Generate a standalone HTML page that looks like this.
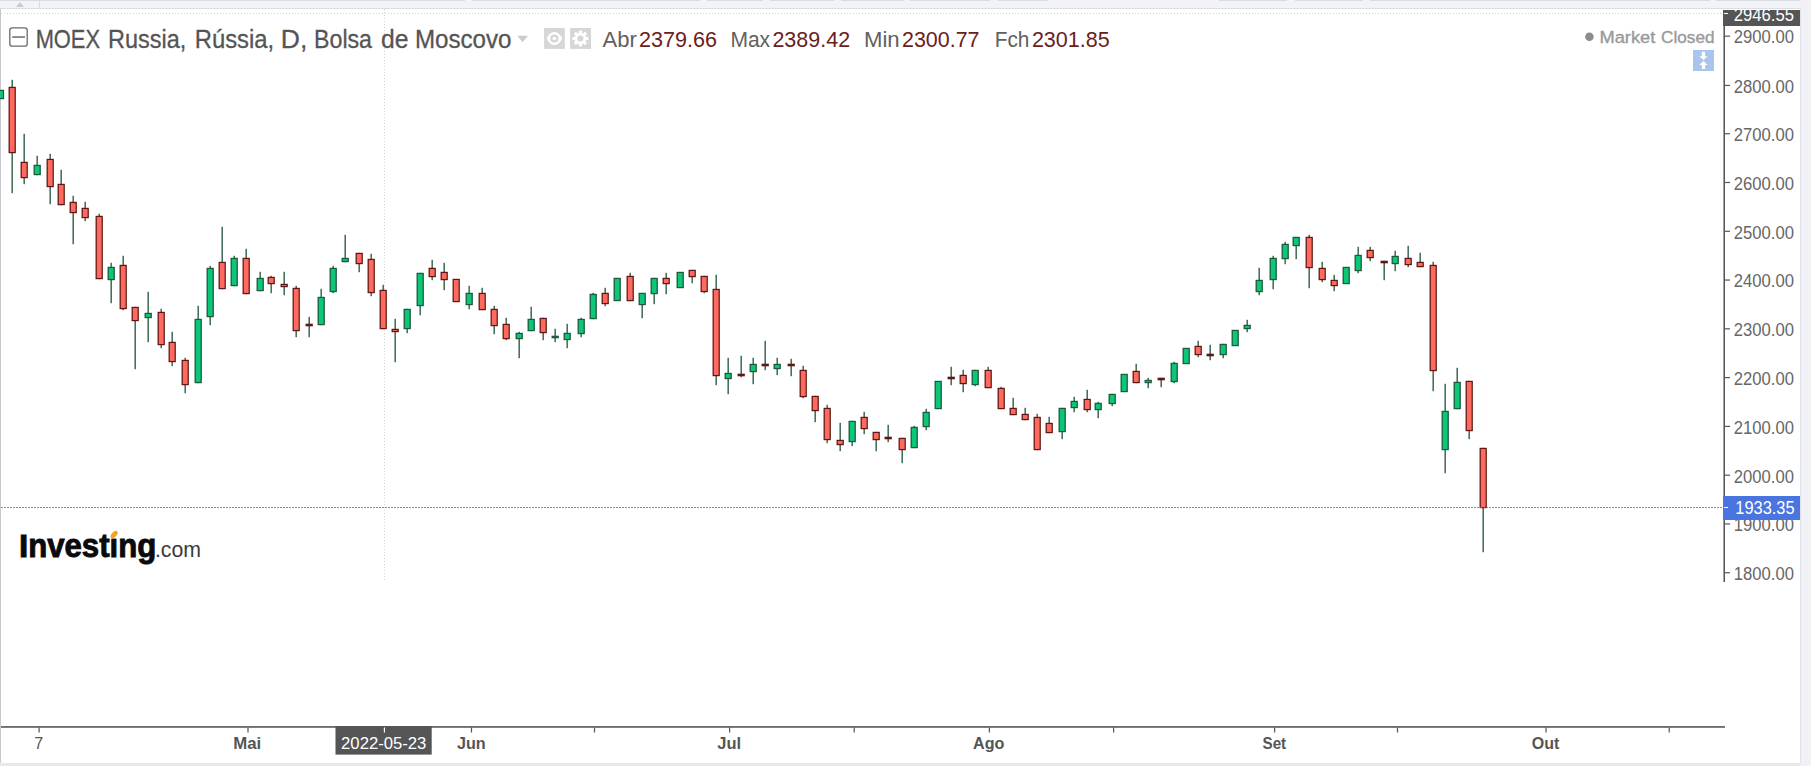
<!DOCTYPE html>
<html lang="pt"><head><meta charset="utf-8"><title>MOEX Russia</title>
<style>html,body{margin:0;padding:0;background:#fff;width:1811px;height:766px;overflow:hidden}</style>
</head><body>
<svg width="1811" height="766" viewBox="0 0 1811 766" style="display:block;position:absolute;left:0;top:0">
<rect x="0" y="0" width="1811" height="766" fill="#ffffff"/>
<g shape-rendering="crispEdges">
<rect x="0" y="0" width="1811" height="9" fill="#f2f3f7"/>
<rect x="0" y="0" width="464.5" height="1" fill="#d9dbe2"/>
<rect x="472" y="0" width="228" height="1" fill="#d9dbe2"/>
<rect x="706.5" y="0" width="56.5" height="1" fill="#d9dbe2"/>
<rect x="769.5" y="0" width="64.5" height="1" fill="#d9dbe2"/>
<rect x="840.5" y="0" width="63.0" height="1" fill="#d9dbe2"/>
<rect x="910" y="0" width="80" height="1" fill="#d9dbe2"/>
<rect x="997.5" y="0" width="50.5" height="1" fill="#d9dbe2"/>
<rect x="1218.5" y="0" width="68.0" height="1" fill="#d9dbe2"/>
<rect x="1294.5" y="0" width="68.5" height="1" fill="#d9dbe2"/>
<rect x="1370" y="0" width="340" height="1" fill="#d9dbe2"/>
<rect x="1716" y="0" width="87" height="1" fill="#d9dbe2"/>
<rect x="0" y="8" width="1800" height="1" fill="#dcdde2"/>
<rect x="39" y="1" width="1" height="7" fill="#d9dbe1"/>
<rect x="1800" y="0" width="11" height="766" fill="#f0f1f6"/>
<rect x="1800" y="9" width="1" height="754" fill="#dfe1e8"/>
<rect x="1808" y="0" width="3" height="766" fill="#f2f2f3"/>
<rect x="0" y="763" width="1800" height="3" fill="#e6e8ee"/>
<rect x="0" y="9" width="1" height="754" fill="#c9c9cd"/>
</g>
<path d="M16 7 L20 2.3 L24 7 Z" fill="#c9cbd1"/>
<g shape-rendering="crispEdges">
<line x1="1" y1="13.5" x2="1724" y2="13.5" stroke="#cdcdcd" stroke-width="1" stroke-dasharray="1 2"/>
<line x1="384.5" y1="9" x2="384.5" y2="582" stroke="#d2d2d2" stroke-width="1" stroke-dasharray="1 2"/>
</g>
<filter id="bl" x="-1%" y="-1%" width="102%" height="102%"><feGaussianBlur stdDeviation="0.42"/></filter>
<g filter="url(#bl)">
<rect x="-2" y="89.8" width="6.1" height="9.4" fill="#1b5a3a"/><rect x="-2" y="91" width="4.9" height="7" fill="#0cc677"/>
<rect x="11.45" y="79.8" width="1.5" height="113.4" fill="#3d6a55"/>
<rect x="8.55" y="86.8" width="7.3" height="66.4" fill="#5e1512"/>
<rect x="9.80" y="88.05" width="4.80" height="63.90" fill="#ff6a60"/>
<rect x="23.45" y="133.8" width="1.5" height="50.4" fill="#3d6a55"/>
<rect x="20.55" y="161.8" width="7.3" height="16.4" fill="#5e1512"/>
<rect x="21.80" y="163.05" width="4.80" height="13.90" fill="#ff6a60"/>
<rect x="36.45" y="155.8" width="1.5" height="19.4" fill="#3d6a55"/>
<rect x="33.55" y="164.8" width="7.3" height="10.4" fill="#1b5a3a"/>
<rect x="34.80" y="166.05" width="4.80" height="7.90" fill="#0cc677"/>
<rect x="49.45" y="153.8" width="1.5" height="50.4" fill="#3d6a55"/>
<rect x="46.55" y="158.8" width="7.3" height="28.4" fill="#5e1512"/>
<rect x="47.80" y="160.05" width="4.80" height="25.90" fill="#ff6a60"/>
<rect x="60.45" y="169.8" width="1.5" height="35.4" fill="#3d6a55"/>
<rect x="57.55" y="183.8" width="7.3" height="21.4" fill="#5e1512"/>
<rect x="58.80" y="185.05" width="4.80" height="18.90" fill="#ff6a60"/>
<rect x="72.45" y="195.8" width="1.5" height="48.4" fill="#3d6a55"/>
<rect x="69.55" y="201.8" width="7.3" height="11.4" fill="#5e1512"/>
<rect x="70.80" y="203.05" width="4.80" height="8.90" fill="#ff6a60"/>
<rect x="84.45" y="201.8" width="1.5" height="19.4" fill="#3d6a55"/>
<rect x="81.55" y="207.8" width="7.3" height="10.4" fill="#5e1512"/>
<rect x="82.80" y="209.05" width="4.80" height="7.90" fill="#ff6a60"/>
<rect x="98.45" y="213.8" width="1.5" height="65.4" fill="#3d6a55"/>
<rect x="95.55" y="215.8" width="7.3" height="63.4" fill="#5e1512"/>
<rect x="96.80" y="217.05" width="4.80" height="60.90" fill="#ff6a60"/>
<rect x="110.45" y="262.8" width="1.5" height="40.4" fill="#3d6a55"/>
<rect x="107.55" y="266.8" width="7.3" height="13.4" fill="#1b5a3a"/>
<rect x="108.80" y="268.05" width="4.80" height="10.90" fill="#0cc677"/>
<rect x="122.45" y="255.8" width="1.5" height="54.4" fill="#3d6a55"/>
<rect x="119.55" y="264.8" width="7.3" height="44.4" fill="#5e1512"/>
<rect x="120.80" y="266.05" width="4.80" height="41.90" fill="#ff6a60"/>
<rect x="134.45" y="306.8" width="1.5" height="62.4" fill="#3d6a55"/>
<rect x="131.55" y="306.8" width="7.3" height="14.4" fill="#5e1512"/>
<rect x="132.80" y="308.05" width="4.80" height="11.90" fill="#ff6a60"/>
<rect x="147.45" y="291.8" width="1.5" height="50.4" fill="#3d6a55"/>
<rect x="144.55" y="312.8" width="7.3" height="5.4" fill="#1b5a3a"/>
<rect x="145.80" y="314.05" width="4.80" height="2.90" fill="#0cc677"/>
<rect x="160.45" y="308.8" width="1.5" height="39.4" fill="#3d6a55"/>
<rect x="157.55" y="311.8" width="7.3" height="33.4" fill="#5e1512"/>
<rect x="158.80" y="313.05" width="4.80" height="30.90" fill="#ff6a60"/>
<rect x="171.45" y="331.8" width="1.5" height="34.4" fill="#3d6a55"/>
<rect x="168.55" y="341.8" width="7.3" height="20.4" fill="#5e1512"/>
<rect x="169.80" y="343.05" width="4.80" height="17.90" fill="#ff6a60"/>
<rect x="184.45" y="357.8" width="1.5" height="35.4" fill="#3d6a55"/>
<rect x="181.55" y="359.8" width="7.3" height="25.4" fill="#5e1512"/>
<rect x="182.80" y="361.05" width="4.80" height="22.90" fill="#ff6a60"/>
<rect x="197.45" y="305.8" width="1.5" height="77.4" fill="#3d6a55"/>
<rect x="194.55" y="318.8" width="7.3" height="64.4" fill="#1b5a3a"/>
<rect x="195.80" y="320.05" width="4.80" height="61.90" fill="#0cc677"/>
<rect x="209.45" y="265.8" width="1.5" height="59.4" fill="#3d6a55"/>
<rect x="206.55" y="267.8" width="7.3" height="49.4" fill="#1b5a3a"/>
<rect x="207.80" y="269.05" width="4.80" height="46.90" fill="#0cc677"/>
<rect x="221.45" y="226.8" width="1.5" height="62.4" fill="#3d6a55"/>
<rect x="218.55" y="261.8" width="7.3" height="27.4" fill="#5e1512"/>
<rect x="219.80" y="263.05" width="4.80" height="24.90" fill="#ff6a60"/>
<rect x="233.45" y="255.8" width="1.5" height="30.4" fill="#3d6a55"/>
<rect x="230.55" y="257.8" width="7.3" height="28.4" fill="#1b5a3a"/>
<rect x="231.80" y="259.05" width="4.80" height="25.90" fill="#0cc677"/>
<rect x="245.45" y="248.8" width="1.5" height="45.4" fill="#3d6a55"/>
<rect x="242.55" y="257.8" width="7.3" height="36.4" fill="#5e1512"/>
<rect x="243.80" y="259.05" width="4.80" height="33.90" fill="#ff6a60"/>
<rect x="259.45" y="271.8" width="1.5" height="19.4" fill="#3d6a55"/>
<rect x="256.55" y="277.8" width="7.3" height="13.4" fill="#1b5a3a"/>
<rect x="257.80" y="279.05" width="4.80" height="10.90" fill="#0cc677"/>
<rect x="270.45" y="275.8" width="1.5" height="17.4" fill="#3d6a55"/>
<rect x="267.55" y="276.8" width="7.3" height="7.4" fill="#5e1512"/>
<rect x="268.80" y="278.05" width="4.80" height="4.90" fill="#ff6a60"/>
<rect x="283.45" y="271.8" width="1.5" height="23.4" fill="#3d6a55"/>
<rect x="280.55" y="283.8" width="7.3" height="3.4" fill="#5e1512"/>
<rect x="281.80" y="285.05" width="4.80" height="0.90" fill="#ff6a60"/>
<rect x="295.45" y="285.8" width="1.5" height="51.4" fill="#3d6a55"/>
<rect x="292.55" y="287.8" width="7.3" height="43.4" fill="#5e1512"/>
<rect x="293.80" y="289.05" width="4.80" height="40.90" fill="#ff6a60"/>
<rect x="308.45" y="316.8" width="1.5" height="20.4" fill="#3d6a55"/>
<rect x="305.55" y="323.7" width="7.3" height="2.6" fill="#5e1512"/>
<rect x="320.45" y="288.8" width="1.5" height="36.4" fill="#3d6a55"/>
<rect x="317.55" y="296.8" width="7.3" height="28.4" fill="#1b5a3a"/>
<rect x="318.80" y="298.05" width="4.80" height="25.90" fill="#0cc677"/>
<rect x="332.45" y="265.8" width="1.5" height="27.4" fill="#3d6a55"/>
<rect x="329.55" y="267.8" width="7.3" height="24.4" fill="#1b5a3a"/>
<rect x="330.80" y="269.05" width="4.80" height="21.90" fill="#0cc677"/>
<rect x="344.45" y="234.8" width="1.5" height="27.4" fill="#3d6a55"/>
<rect x="341.55" y="257.8" width="7.3" height="4.4" fill="#1b5a3a"/>
<rect x="342.80" y="259.05" width="4.80" height="1.90" fill="#0cc677"/>
<rect x="358.45" y="252.8" width="1.5" height="19.4" fill="#3d6a55"/>
<rect x="355.55" y="252.8" width="7.3" height="11.4" fill="#5e1512"/>
<rect x="356.80" y="254.05" width="4.80" height="8.90" fill="#ff6a60"/>
<rect x="370.45" y="253.8" width="1.5" height="42.4" fill="#3d6a55"/>
<rect x="367.55" y="258.8" width="7.3" height="34.4" fill="#5e1512"/>
<rect x="368.80" y="260.05" width="4.80" height="31.90" fill="#ff6a60"/>
<rect x="382.45" y="284.8" width="1.5" height="44.4" fill="#3d6a55"/>
<rect x="379.55" y="289.8" width="7.3" height="39.4" fill="#5e1512"/>
<rect x="380.80" y="291.05" width="4.80" height="36.90" fill="#ff6a60"/>
<rect x="394.45" y="318.8" width="1.5" height="43.4" fill="#3d6a55"/>
<rect x="391.55" y="328.8" width="7.3" height="3.4" fill="#5e1512"/>
<rect x="392.80" y="330.05" width="4.80" height="0.90" fill="#ff6a60"/>
<rect x="406.45" y="308.8" width="1.5" height="24.4" fill="#3d6a55"/>
<rect x="403.55" y="308.8" width="7.3" height="20.4" fill="#1b5a3a"/>
<rect x="404.80" y="310.05" width="4.80" height="17.90" fill="#0cc677"/>
<rect x="419.45" y="272.8" width="1.5" height="42.4" fill="#3d6a55"/>
<rect x="416.55" y="272.8" width="7.3" height="33.4" fill="#1b5a3a"/>
<rect x="417.80" y="274.05" width="4.80" height="30.90" fill="#0cc677"/>
<rect x="431.45" y="259.8" width="1.5" height="20.4" fill="#3d6a55"/>
<rect x="428.55" y="267.8" width="7.3" height="9.4" fill="#5e1512"/>
<rect x="429.80" y="269.05" width="4.80" height="6.90" fill="#ff6a60"/>
<rect x="443.45" y="262.8" width="1.5" height="27.4" fill="#3d6a55"/>
<rect x="440.55" y="271.8" width="7.3" height="8.4" fill="#5e1512"/>
<rect x="441.80" y="273.05" width="4.80" height="5.90" fill="#ff6a60"/>
<rect x="452.55" y="278.8" width="7.3" height="23.4" fill="#5e1512"/>
<rect x="453.80" y="280.05" width="4.80" height="20.90" fill="#ff6a60"/>
<rect x="468.45" y="285.8" width="1.5" height="23.4" fill="#3d6a55"/>
<rect x="465.55" y="292.8" width="7.3" height="12.4" fill="#1b5a3a"/>
<rect x="466.80" y="294.05" width="4.80" height="9.90" fill="#0cc677"/>
<rect x="481.45" y="287.8" width="1.5" height="22.4" fill="#3d6a55"/>
<rect x="478.55" y="292.8" width="7.3" height="17.4" fill="#5e1512"/>
<rect x="479.80" y="294.05" width="4.80" height="14.90" fill="#ff6a60"/>
<rect x="493.45" y="305.8" width="1.5" height="28.4" fill="#3d6a55"/>
<rect x="490.55" y="308.8" width="7.3" height="17.4" fill="#5e1512"/>
<rect x="491.80" y="310.05" width="4.80" height="14.90" fill="#ff6a60"/>
<rect x="505.45" y="317.8" width="1.5" height="22.4" fill="#3d6a55"/>
<rect x="502.55" y="323.8" width="7.3" height="15.4" fill="#5e1512"/>
<rect x="503.80" y="325.05" width="4.80" height="12.90" fill="#ff6a60"/>
<rect x="518.45" y="331.8" width="1.5" height="26.4" fill="#3d6a55"/>
<rect x="515.55" y="332.8" width="7.3" height="6.4" fill="#1b5a3a"/>
<rect x="516.80" y="334.05" width="4.80" height="3.90" fill="#0cc677"/>
<rect x="530.45" y="306.8" width="1.5" height="24.4" fill="#3d6a55"/>
<rect x="527.55" y="318.8" width="7.3" height="12.4" fill="#1b5a3a"/>
<rect x="528.80" y="320.05" width="4.80" height="9.90" fill="#0cc677"/>
<rect x="542.45" y="317.8" width="1.5" height="22.4" fill="#3d6a55"/>
<rect x="539.55" y="317.8" width="7.3" height="15.4" fill="#5e1512"/>
<rect x="540.80" y="319.05" width="4.80" height="12.90" fill="#ff6a60"/>
<rect x="554.45" y="328.8" width="1.5" height="13.4" fill="#3d6a55"/>
<rect x="551.55" y="335.7" width="7.3" height="2.6" fill="#1b5a3a"/>
<rect x="566.45" y="323.8" width="1.5" height="24.4" fill="#3d6a55"/>
<rect x="563.55" y="332.8" width="7.3" height="7.4" fill="#1b5a3a"/>
<rect x="564.80" y="334.05" width="4.80" height="4.90" fill="#0cc677"/>
<rect x="580.45" y="317.8" width="1.5" height="19.4" fill="#3d6a55"/>
<rect x="577.55" y="318.8" width="7.3" height="15.4" fill="#1b5a3a"/>
<rect x="578.80" y="320.05" width="4.80" height="12.90" fill="#0cc677"/>
<rect x="592.45" y="292.8" width="1.5" height="26.4" fill="#3d6a55"/>
<rect x="589.55" y="293.8" width="7.3" height="25.4" fill="#1b5a3a"/>
<rect x="590.80" y="295.05" width="4.80" height="22.90" fill="#0cc677"/>
<rect x="604.45" y="287.8" width="1.5" height="18.4" fill="#3d6a55"/>
<rect x="601.55" y="292.8" width="7.3" height="11.4" fill="#5e1512"/>
<rect x="602.80" y="294.05" width="4.80" height="8.90" fill="#ff6a60"/>
<rect x="613.55" y="277.8" width="7.3" height="23.4" fill="#1b5a3a"/>
<rect x="614.80" y="279.05" width="4.80" height="20.90" fill="#0cc677"/>
<rect x="629.45" y="272.8" width="1.5" height="28.4" fill="#3d6a55"/>
<rect x="626.55" y="275.8" width="7.3" height="25.4" fill="#5e1512"/>
<rect x="627.80" y="277.05" width="4.80" height="22.90" fill="#ff6a60"/>
<rect x="641.45" y="292.8" width="1.5" height="25.4" fill="#3d6a55"/>
<rect x="638.55" y="292.8" width="7.3" height="12.4" fill="#1b5a3a"/>
<rect x="639.80" y="294.05" width="4.80" height="9.90" fill="#0cc677"/>
<rect x="653.45" y="277.8" width="1.5" height="26.4" fill="#3d6a55"/>
<rect x="650.55" y="277.8" width="7.3" height="16.4" fill="#1b5a3a"/>
<rect x="651.80" y="279.05" width="4.80" height="13.90" fill="#0cc677"/>
<rect x="665.45" y="272.8" width="1.5" height="21.4" fill="#3d6a55"/>
<rect x="662.55" y="277.8" width="7.3" height="6.4" fill="#5e1512"/>
<rect x="663.80" y="279.05" width="4.80" height="3.90" fill="#ff6a60"/>
<rect x="676.55" y="271.8" width="7.3" height="16.4" fill="#1b5a3a"/>
<rect x="677.80" y="273.05" width="4.80" height="13.90" fill="#0cc677"/>
<rect x="691.45" y="269.8" width="1.5" height="13.4" fill="#3d6a55"/>
<rect x="688.55" y="269.8" width="7.3" height="7.4" fill="#5e1512"/>
<rect x="689.80" y="271.05" width="4.80" height="4.90" fill="#ff6a60"/>
<rect x="703.45" y="275.8" width="1.5" height="17.4" fill="#3d6a55"/>
<rect x="700.55" y="275.8" width="7.3" height="16.4" fill="#5e1512"/>
<rect x="701.80" y="277.05" width="4.80" height="13.90" fill="#ff6a60"/>
<rect x="715.45" y="274.8" width="1.5" height="110.4" fill="#3d6a55"/>
<rect x="712.55" y="288.8" width="7.3" height="87.4" fill="#5e1512"/>
<rect x="713.80" y="290.05" width="4.80" height="84.90" fill="#ff6a60"/>
<rect x="727.45" y="357.8" width="1.5" height="36.4" fill="#3d6a55"/>
<rect x="724.55" y="372.8" width="7.3" height="6.4" fill="#1b5a3a"/>
<rect x="725.80" y="374.05" width="4.80" height="3.90" fill="#0cc677"/>
<rect x="740.45" y="355.8" width="1.5" height="21.4" fill="#3d6a55"/>
<rect x="737.55" y="373.7" width="7.3" height="2.6" fill="#5e1512"/>
<rect x="752.45" y="357.8" width="1.5" height="26.4" fill="#3d6a55"/>
<rect x="749.55" y="363.8" width="7.3" height="8.4" fill="#1b5a3a"/>
<rect x="750.80" y="365.05" width="4.80" height="5.90" fill="#0cc677"/>
<rect x="764.45" y="340.8" width="1.5" height="29.4" fill="#3d6a55"/>
<rect x="761.55" y="363.7" width="7.3" height="2.6" fill="#5e1512"/>
<rect x="776.45" y="357.8" width="1.5" height="17.4" fill="#3d6a55"/>
<rect x="773.55" y="363.8" width="7.3" height="5.4" fill="#1b5a3a"/>
<rect x="774.80" y="365.05" width="4.80" height="2.90" fill="#0cc677"/>
<rect x="790.45" y="358.8" width="1.5" height="17.4" fill="#3d6a55"/>
<rect x="787.55" y="363.7" width="7.3" height="2.6" fill="#5e1512"/>
<rect x="802.45" y="365.8" width="1.5" height="32.4" fill="#3d6a55"/>
<rect x="799.55" y="369.8" width="7.3" height="27.4" fill="#5e1512"/>
<rect x="800.80" y="371.05" width="4.80" height="24.90" fill="#ff6a60"/>
<rect x="814.45" y="395.8" width="1.5" height="26.4" fill="#3d6a55"/>
<rect x="811.55" y="395.8" width="7.3" height="15.4" fill="#5e1512"/>
<rect x="812.80" y="397.05" width="4.80" height="12.90" fill="#ff6a60"/>
<rect x="826.45" y="404.8" width="1.5" height="38.4" fill="#3d6a55"/>
<rect x="823.55" y="407.8" width="7.3" height="32.4" fill="#5e1512"/>
<rect x="824.80" y="409.05" width="4.80" height="29.90" fill="#ff6a60"/>
<rect x="839.45" y="422.8" width="1.5" height="28.4" fill="#3d6a55"/>
<rect x="836.55" y="439.8" width="7.3" height="5.4" fill="#5e1512"/>
<rect x="837.80" y="441.05" width="4.80" height="2.90" fill="#ff6a60"/>
<rect x="851.45" y="420.8" width="1.5" height="25.4" fill="#3d6a55"/>
<rect x="848.55" y="420.8" width="7.3" height="21.4" fill="#1b5a3a"/>
<rect x="849.80" y="422.05" width="4.80" height="18.90" fill="#0cc677"/>
<rect x="863.45" y="411.8" width="1.5" height="22.4" fill="#3d6a55"/>
<rect x="860.55" y="416.8" width="7.3" height="12.4" fill="#5e1512"/>
<rect x="861.80" y="418.05" width="4.80" height="9.90" fill="#ff6a60"/>
<rect x="875.45" y="431.8" width="1.5" height="19.4" fill="#3d6a55"/>
<rect x="872.55" y="431.8" width="7.3" height="8.4" fill="#5e1512"/>
<rect x="873.80" y="433.05" width="4.80" height="5.90" fill="#ff6a60"/>
<rect x="887.45" y="424.8" width="1.5" height="17.4" fill="#3d6a55"/>
<rect x="884.55" y="436.7" width="7.3" height="2.6" fill="#5e1512"/>
<rect x="901.45" y="437.8" width="1.5" height="25.4" fill="#3d6a55"/>
<rect x="898.55" y="437.8" width="7.3" height="12.4" fill="#5e1512"/>
<rect x="899.80" y="439.05" width="4.80" height="9.90" fill="#ff6a60"/>
<rect x="913.45" y="425.8" width="1.5" height="22.4" fill="#3d6a55"/>
<rect x="910.55" y="426.8" width="7.3" height="21.4" fill="#1b5a3a"/>
<rect x="911.80" y="428.05" width="4.80" height="18.90" fill="#0cc677"/>
<rect x="925.45" y="408.8" width="1.5" height="21.4" fill="#3d6a55"/>
<rect x="922.55" y="411.8" width="7.3" height="15.4" fill="#1b5a3a"/>
<rect x="923.80" y="413.05" width="4.80" height="12.90" fill="#0cc677"/>
<rect x="934.55" y="380.8" width="7.3" height="28.4" fill="#1b5a3a"/>
<rect x="935.80" y="382.05" width="4.80" height="25.90" fill="#0cc677"/>
<rect x="950.45" y="366.8" width="1.5" height="18.4" fill="#3d6a55"/>
<rect x="947.55" y="376.7" width="7.3" height="2.6" fill="#5e1512"/>
<rect x="962.45" y="369.8" width="1.5" height="22.4" fill="#3d6a55"/>
<rect x="959.55" y="374.8" width="7.3" height="9.4" fill="#5e1512"/>
<rect x="960.80" y="376.05" width="4.80" height="6.90" fill="#ff6a60"/>
<rect x="974.45" y="369.8" width="1.5" height="16.4" fill="#3d6a55"/>
<rect x="971.55" y="369.8" width="7.3" height="15.4" fill="#1b5a3a"/>
<rect x="972.80" y="371.05" width="4.80" height="12.90" fill="#0cc677"/>
<rect x="987.45" y="366.8" width="1.5" height="21.4" fill="#3d6a55"/>
<rect x="984.55" y="369.8" width="7.3" height="18.4" fill="#5e1512"/>
<rect x="985.80" y="371.05" width="4.80" height="15.90" fill="#ff6a60"/>
<rect x="1000.45" y="386.8" width="1.5" height="22.4" fill="#3d6a55"/>
<rect x="997.55" y="387.8" width="7.3" height="21.4" fill="#5e1512"/>
<rect x="998.80" y="389.05" width="4.80" height="18.90" fill="#ff6a60"/>
<rect x="1012.45" y="397.8" width="1.5" height="17.4" fill="#3d6a55"/>
<rect x="1009.55" y="407.8" width="7.3" height="7.4" fill="#5e1512"/>
<rect x="1010.80" y="409.05" width="4.80" height="4.90" fill="#ff6a60"/>
<rect x="1024.45" y="407.8" width="1.5" height="12.4" fill="#3d6a55"/>
<rect x="1021.55" y="413.8" width="7.3" height="6.4" fill="#5e1512"/>
<rect x="1022.80" y="415.05" width="4.80" height="3.90" fill="#ff6a60"/>
<rect x="1036.45" y="413.8" width="1.5" height="36.4" fill="#3d6a55"/>
<rect x="1033.55" y="416.8" width="7.3" height="33.4" fill="#5e1512"/>
<rect x="1034.80" y="418.05" width="4.80" height="30.90" fill="#ff6a60"/>
<rect x="1048.45" y="416.8" width="1.5" height="16.4" fill="#3d6a55"/>
<rect x="1045.55" y="422.8" width="7.3" height="10.4" fill="#5e1512"/>
<rect x="1046.80" y="424.05" width="4.80" height="7.90" fill="#ff6a60"/>
<rect x="1061.45" y="407.8" width="1.5" height="31.4" fill="#3d6a55"/>
<rect x="1058.55" y="407.8" width="7.3" height="24.4" fill="#1b5a3a"/>
<rect x="1059.80" y="409.05" width="4.80" height="21.90" fill="#0cc677"/>
<rect x="1073.45" y="396.8" width="1.5" height="15.4" fill="#3d6a55"/>
<rect x="1070.55" y="400.8" width="7.3" height="7.4" fill="#1b5a3a"/>
<rect x="1071.80" y="402.05" width="4.80" height="4.90" fill="#0cc677"/>
<rect x="1086.45" y="389.8" width="1.5" height="22.4" fill="#3d6a55"/>
<rect x="1083.55" y="398.8" width="7.3" height="11.4" fill="#5e1512"/>
<rect x="1084.80" y="400.05" width="4.80" height="8.90" fill="#ff6a60"/>
<rect x="1097.45" y="401.8" width="1.5" height="16.4" fill="#3d6a55"/>
<rect x="1094.55" y="402.8" width="7.3" height="7.4" fill="#1b5a3a"/>
<rect x="1095.80" y="404.05" width="4.80" height="4.90" fill="#0cc677"/>
<rect x="1111.45" y="393.8" width="1.5" height="12.4" fill="#3d6a55"/>
<rect x="1108.55" y="393.8" width="7.3" height="10.4" fill="#1b5a3a"/>
<rect x="1109.80" y="395.05" width="4.80" height="7.90" fill="#0cc677"/>
<rect x="1120.55" y="373.8" width="7.3" height="18.4" fill="#1b5a3a"/>
<rect x="1121.80" y="375.05" width="4.80" height="15.90" fill="#0cc677"/>
<rect x="1135.45" y="363.8" width="1.5" height="19.4" fill="#3d6a55"/>
<rect x="1132.55" y="370.8" width="7.3" height="12.4" fill="#5e1512"/>
<rect x="1133.80" y="372.05" width="4.80" height="9.90" fill="#ff6a60"/>
<rect x="1147.45" y="377.8" width="1.5" height="10.4" fill="#3d6a55"/>
<rect x="1144.55" y="379.8" width="7.3" height="3.4" fill="#1b5a3a"/>
<rect x="1145.80" y="381.05" width="4.80" height="0.90" fill="#0cc677"/>
<rect x="1160.45" y="377.8" width="1.5" height="9.4" fill="#3d6a55"/>
<rect x="1157.55" y="377.7" width="7.3" height="2.6" fill="#5e1512"/>
<rect x="1173.45" y="361.8" width="1.5" height="21.4" fill="#3d6a55"/>
<rect x="1170.55" y="362.8" width="7.3" height="19.4" fill="#1b5a3a"/>
<rect x="1171.80" y="364.05" width="4.80" height="16.90" fill="#0cc677"/>
<rect x="1182.55" y="347.8" width="7.3" height="16.4" fill="#1b5a3a"/>
<rect x="1183.80" y="349.05" width="4.80" height="13.90" fill="#0cc677"/>
<rect x="1197.45" y="340.8" width="1.5" height="16.4" fill="#3d6a55"/>
<rect x="1194.55" y="345.8" width="7.3" height="9.4" fill="#5e1512"/>
<rect x="1195.80" y="347.05" width="4.80" height="6.90" fill="#ff6a60"/>
<rect x="1209.45" y="344.8" width="1.5" height="15.4" fill="#3d6a55"/>
<rect x="1206.55" y="353.7" width="7.3" height="2.6" fill="#5e1512"/>
<rect x="1222.45" y="343.8" width="1.5" height="14.4" fill="#3d6a55"/>
<rect x="1219.55" y="343.8" width="7.3" height="11.4" fill="#1b5a3a"/>
<rect x="1220.80" y="345.05" width="4.80" height="8.90" fill="#0cc677"/>
<rect x="1231.55" y="329.8" width="7.3" height="16.4" fill="#1b5a3a"/>
<rect x="1232.80" y="331.05" width="4.80" height="13.90" fill="#0cc677"/>
<rect x="1246.45" y="319.8" width="1.5" height="12.4" fill="#3d6a55"/>
<rect x="1243.55" y="324.8" width="7.3" height="4.4" fill="#1b5a3a"/>
<rect x="1244.80" y="326.05" width="4.80" height="1.90" fill="#0cc677"/>
<rect x="1258.45" y="267.8" width="1.5" height="27.4" fill="#3d6a55"/>
<rect x="1255.55" y="279.8" width="7.3" height="12.4" fill="#1b5a3a"/>
<rect x="1256.80" y="281.05" width="4.80" height="9.90" fill="#0cc677"/>
<rect x="1272.45" y="255.8" width="1.5" height="33.4" fill="#3d6a55"/>
<rect x="1269.55" y="257.8" width="7.3" height="22.4" fill="#1b5a3a"/>
<rect x="1270.80" y="259.05" width="4.80" height="19.90" fill="#0cc677"/>
<rect x="1284.45" y="241.8" width="1.5" height="22.4" fill="#3d6a55"/>
<rect x="1281.55" y="243.8" width="7.3" height="15.4" fill="#1b5a3a"/>
<rect x="1282.80" y="245.05" width="4.80" height="12.90" fill="#0cc677"/>
<rect x="1295.45" y="236.8" width="1.5" height="22.4" fill="#3d6a55"/>
<rect x="1292.55" y="236.8" width="7.3" height="9.4" fill="#1b5a3a"/>
<rect x="1293.80" y="238.05" width="4.80" height="6.90" fill="#0cc677"/>
<rect x="1308.45" y="234.8" width="1.5" height="53.4" fill="#3d6a55"/>
<rect x="1305.55" y="236.8" width="7.3" height="31.4" fill="#5e1512"/>
<rect x="1306.80" y="238.05" width="4.80" height="28.90" fill="#ff6a60"/>
<rect x="1321.45" y="261.8" width="1.5" height="20.4" fill="#3d6a55"/>
<rect x="1318.55" y="267.8" width="7.3" height="12.4" fill="#5e1512"/>
<rect x="1319.80" y="269.05" width="4.80" height="9.90" fill="#ff6a60"/>
<rect x="1333.45" y="274.8" width="1.5" height="16.4" fill="#3d6a55"/>
<rect x="1330.55" y="279.8" width="7.3" height="6.4" fill="#5e1512"/>
<rect x="1331.80" y="281.05" width="4.80" height="3.90" fill="#ff6a60"/>
<rect x="1342.55" y="266.8" width="7.3" height="17.4" fill="#1b5a3a"/>
<rect x="1343.80" y="268.05" width="4.80" height="14.90" fill="#0cc677"/>
<rect x="1357.45" y="246.8" width="1.5" height="26.4" fill="#3d6a55"/>
<rect x="1354.55" y="254.8" width="7.3" height="16.4" fill="#1b5a3a"/>
<rect x="1355.80" y="256.05" width="4.80" height="13.90" fill="#0cc677"/>
<rect x="1369.45" y="246.8" width="1.5" height="14.4" fill="#3d6a55"/>
<rect x="1366.55" y="249.8" width="7.3" height="8.4" fill="#5e1512"/>
<rect x="1367.80" y="251.05" width="4.80" height="5.90" fill="#ff6a60"/>
<rect x="1383.45" y="260.8" width="1.5" height="19.4" fill="#3d6a55"/>
<rect x="1380.55" y="260.7" width="7.3" height="2.6" fill="#5e1512"/>
<rect x="1394.45" y="250.8" width="1.5" height="20.4" fill="#3d6a55"/>
<rect x="1391.55" y="255.8" width="7.3" height="8.4" fill="#1b5a3a"/>
<rect x="1392.80" y="257.05" width="4.80" height="5.90" fill="#0cc677"/>
<rect x="1407.45" y="245.8" width="1.5" height="21.4" fill="#3d6a55"/>
<rect x="1404.55" y="257.8" width="7.3" height="7.4" fill="#5e1512"/>
<rect x="1405.80" y="259.05" width="4.80" height="4.90" fill="#ff6a60"/>
<rect x="1419.45" y="252.8" width="1.5" height="14.4" fill="#3d6a55"/>
<rect x="1416.55" y="261.8" width="7.3" height="5.4" fill="#5e1512"/>
<rect x="1417.80" y="263.05" width="4.80" height="2.90" fill="#ff6a60"/>
<rect x="1432.45" y="261.8" width="1.5" height="129.4" fill="#3d6a55"/>
<rect x="1429.55" y="264.8" width="7.3" height="106.4" fill="#5e1512"/>
<rect x="1430.80" y="266.05" width="4.80" height="103.90" fill="#ff6a60"/>
<rect x="1444.45" y="383.8" width="1.5" height="89.4" fill="#3d6a55"/>
<rect x="1441.55" y="410.8" width="7.3" height="39.4" fill="#1b5a3a"/>
<rect x="1442.80" y="412.05" width="4.80" height="36.90" fill="#0cc677"/>
<rect x="1456.45" y="367.8" width="1.5" height="41.4" fill="#3d6a55"/>
<rect x="1453.55" y="381.8" width="7.3" height="27.4" fill="#1b5a3a"/>
<rect x="1454.80" y="383.05" width="4.80" height="24.90" fill="#0cc677"/>
<rect x="1468.45" y="380.8" width="1.5" height="58.4" fill="#3d6a55"/>
<rect x="1465.55" y="380.8" width="7.3" height="50.4" fill="#5e1512"/>
<rect x="1466.80" y="382.05" width="4.80" height="47.90" fill="#ff6a60"/>
<rect x="1482.45" y="447.8" width="1.5" height="104.4" fill="#3d6a55"/>
<rect x="1479.55" y="447.8" width="7.3" height="60.4" fill="#5e1512"/>
<rect x="1480.80" y="449.05" width="4.80" height="57.90" fill="#ff6a60"/>
</g>
<line x1="1" y1="507.5" x2="1724" y2="507.5" stroke="#4c6fd6" stroke-width="1" stroke-dasharray="2 1" opacity="0.8" shape-rendering="crispEdges"/>
<g shape-rendering="crispEdges">
<rect x="1723" y="26" width="1" height="555.5" fill="#555555" opacity="0.55"/><rect x="1724" y="26" width="1" height="555.5" fill="#555555"/>
</g>
<rect x="1725" y="572.13" width="5" height="1.2" fill="#555555"/>
<rect x="1725" y="523.35" width="5" height="1.2" fill="#555555"/>
<rect x="1725" y="474.57" width="5" height="1.2" fill="#555555"/>
<rect x="1725" y="425.79" width="5" height="1.2" fill="#555555"/>
<rect x="1725" y="377.01" width="5" height="1.2" fill="#555555"/>
<rect x="1725" y="328.23" width="5" height="1.2" fill="#555555"/>
<rect x="1725" y="279.45" width="5" height="1.2" fill="#555555"/>
<rect x="1725" y="230.67" width="5" height="1.2" fill="#555555"/>
<rect x="1725" y="181.89" width="5" height="1.2" fill="#555555"/>
<rect x="1725" y="133.11" width="5" height="1.2" fill="#555555"/>
<rect x="1725" y="84.83" width="5" height="1.2" fill="#555555"/>
<rect x="1725" y="35.55" width="5" height="1.2" fill="#555555"/>
<text x="1733.8" y="580.0" font-family="Liberation Sans, Arial, sans-serif" font-size="18" fill="#666666" textLength="60.1" lengthAdjust="spacingAndGlyphs">1800.00</text>
<text x="1733.8" y="531.2" font-family="Liberation Sans, Arial, sans-serif" font-size="18" fill="#666666" textLength="60.1" lengthAdjust="spacingAndGlyphs">1900.00</text>
<text x="1733.8" y="482.5" font-family="Liberation Sans, Arial, sans-serif" font-size="18" fill="#666666" textLength="60.1" lengthAdjust="spacingAndGlyphs">2000.00</text>
<text x="1733.8" y="433.7" font-family="Liberation Sans, Arial, sans-serif" font-size="18" fill="#666666" textLength="60.1" lengthAdjust="spacingAndGlyphs">2100.00</text>
<text x="1733.8" y="384.9" font-family="Liberation Sans, Arial, sans-serif" font-size="18" fill="#666666" textLength="60.1" lengthAdjust="spacingAndGlyphs">2200.00</text>
<text x="1733.8" y="336.1" font-family="Liberation Sans, Arial, sans-serif" font-size="18" fill="#666666" textLength="60.1" lengthAdjust="spacingAndGlyphs">2300.00</text>
<text x="1733.8" y="287.4" font-family="Liberation Sans, Arial, sans-serif" font-size="18" fill="#666666" textLength="60.1" lengthAdjust="spacingAndGlyphs">2400.00</text>
<text x="1733.8" y="238.6" font-family="Liberation Sans, Arial, sans-serif" font-size="18" fill="#666666" textLength="60.1" lengthAdjust="spacingAndGlyphs">2500.00</text>
<text x="1733.8" y="189.8" font-family="Liberation Sans, Arial, sans-serif" font-size="18" fill="#666666" textLength="60.1" lengthAdjust="spacingAndGlyphs">2600.00</text>
<text x="1733.8" y="141.0" font-family="Liberation Sans, Arial, sans-serif" font-size="18" fill="#666666" textLength="60.1" lengthAdjust="spacingAndGlyphs">2700.00</text>
<text x="1733.8" y="92.7" font-family="Liberation Sans, Arial, sans-serif" font-size="18" fill="#666666" textLength="60.1" lengthAdjust="spacingAndGlyphs">2800.00</text>
<text x="1733.8" y="43.4" font-family="Liberation Sans, Arial, sans-serif" font-size="18" fill="#666666" textLength="60.1" lengthAdjust="spacingAndGlyphs">2900.00</text>
<clipPath id="cp"><rect x="1723" y="10" width="77" height="16"/></clipPath>
<rect x="1723" y="10" width="77" height="16" fill="#555555" shape-rendering="crispEdges"/>
<g clip-path="url(#cp)"><rect x="1724" y="13" width="4" height="1" fill="#fff" shape-rendering="crispEdges"/>
<text x="1733.8" y="20.8" font-family="Liberation Sans, Arial, sans-serif" font-size="18" fill="#fff" textLength="60.1" lengthAdjust="spacingAndGlyphs">2946.55</text></g>
<rect x="1723" y="496" width="77" height="24" fill="#4a74df" shape-rendering="crispEdges"/>
<rect x="1724" y="507" width="4" height="1" fill="#fff" shape-rendering="crispEdges"/>
<text x="1735.3" y="513.6" font-family="Liberation Sans, Arial, sans-serif" font-size="18" fill="#fff" textLength="59.3" lengthAdjust="spacingAndGlyphs">1933.35</text>
<g shape-rendering="crispEdges">
<rect x="1" y="726" width="1724" height="1" fill="#555555" opacity="0.85"/><rect x="1" y="727" width="1724" height="1" fill="#555555" opacity="0.75"/>
<rect x="335.5" y="726" width="96.2" height="28.6" fill="#555555" shape-rendering="auto"/>
</g>
<rect x="38.5" y="727.5" width="1.2" height="5" fill="#555555"/>
<rect x="247.4" y="727.5" width="1.2" height="5" fill="#555555"/>
<rect x="470.9" y="727.5" width="1.2" height="5" fill="#555555"/>
<rect x="593.9" y="727.5" width="1.2" height="5" fill="#555555"/>
<rect x="729.0" y="727.5" width="1.2" height="5" fill="#555555"/>
<rect x="853.6" y="727.5" width="1.2" height="5" fill="#555555"/>
<rect x="988.8" y="727.5" width="1.2" height="5" fill="#555555"/>
<rect x="1113.0" y="727.5" width="1.2" height="5" fill="#555555"/>
<rect x="1274.0" y="727.5" width="1.2" height="5" fill="#555555"/>
<rect x="1396.9" y="727.5" width="1.2" height="5" fill="#555555"/>
<rect x="1545.4" y="727.5" width="1.2" height="5" fill="#555555"/>
<rect x="1668.6" y="727.5" width="1.2" height="5" fill="#555555"/>
<rect x="383.8" y="727.5" width="1.2" height="5" fill="#fff"/>
<text x="34.27" y="748.8" font-family="Liberation Sans, Arial, sans-serif" font-size="16" fill="#555" textLength="8.97" lengthAdjust="spacingAndGlyphs">7</text>
<text x="233.25" y="748.8" font-family="Liberation Sans, Arial, sans-serif" font-size="16" font-weight="bold" fill="#555" textLength="27.97" lengthAdjust="spacingAndGlyphs">Mai</text>
<text x="456.91" y="748.8" font-family="Liberation Sans, Arial, sans-serif" font-size="16" font-weight="bold" fill="#555" textLength="28.76" lengthAdjust="spacingAndGlyphs">Jun</text>
<text x="717.3" y="748.8" font-family="Liberation Sans, Arial, sans-serif" font-size="16" font-weight="bold" fill="#555" textLength="23.77" lengthAdjust="spacingAndGlyphs">Jul</text>
<text x="973.02" y="748.8" font-family="Liberation Sans, Arial, sans-serif" font-size="16" font-weight="bold" fill="#555" textLength="31.32" lengthAdjust="spacingAndGlyphs">Ago</text>
<text x="1262.49" y="748.8" font-family="Liberation Sans, Arial, sans-serif" font-size="16" font-weight="bold" fill="#555" textLength="23.67" lengthAdjust="spacingAndGlyphs">Set</text>
<text x="1531.77" y="748.8" font-family="Liberation Sans, Arial, sans-serif" font-size="16" font-weight="bold" fill="#555" textLength="27.58" lengthAdjust="spacingAndGlyphs">Out</text>
<text x="341.1" y="748.8" font-family="Liberation Sans, Arial, sans-serif" font-size="16" fill="#fff" textLength="85.24" lengthAdjust="spacingAndGlyphs">2022-05-23</text>
<rect x="9.8" y="27.8" width="17.4" height="18.4" rx="2.5" fill="none" stroke="#6a6a6a" stroke-width="1.3"/>
<rect x="12.2" y="36.3" width="12.8" height="1.5" fill="#6a6a6a"/>
<text y="47.7" font-family="Liberation Sans, Arial, sans-serif" font-size="25" fill="#555" stroke="#555" stroke-width="0.3"><tspan x="35.63" textLength="64.42" lengthAdjust="spacingAndGlyphs">MOEX</tspan> <tspan x="107.98" textLength="78.24" lengthAdjust="spacingAndGlyphs">Russia,</tspan> <tspan x="194.75" textLength="79.37" lengthAdjust="spacingAndGlyphs">Rússia,</tspan> <tspan x="280.81" textLength="26.55" lengthAdjust="spacingAndGlyphs">D,</tspan> <tspan x="314.02" textLength="58.01" lengthAdjust="spacingAndGlyphs">Bolsa</tspan> <tspan x="380.93" textLength="27.47" lengthAdjust="spacingAndGlyphs">de</tspan> <tspan x="414.89" textLength="96.6" lengthAdjust="spacingAndGlyphs">Moscovo</tspan></text>
<path d="M517.2 35.7 L528 35.7 L522.6 42.2 Z" fill="#cccccc"/>
<rect x="544.1" y="28" width="20.7" height="20.9" fill="#d6d6d6"/>
<path d="M546.7 38.5 Q549.6 32 554.4 32 Q559.2 32 562.2 38.5 Q559.2 45.1 554.4 45.1 Q549.6 45.1 546.7 38.5 Z" fill="#fff"/>
<circle cx="554.35" cy="38.5" r="4.1" fill="#d6d6d6"/><circle cx="554.35" cy="38.5" r="1.8" fill="#fff"/>
<rect x="570.1" y="28" width="20.9" height="20.9" fill="#d6d6d6"/>
<g transform="translate(580.4,38.5)" fill="#fff">
<circle r="5.7"/>
<rect x="-1.6" y="-7.9" width="3.2" height="4" transform="rotate(0)"/>
<rect x="-1.6" y="-7.9" width="3.2" height="4" transform="rotate(45)"/>
<rect x="-1.6" y="-7.9" width="3.2" height="4" transform="rotate(90)"/>
<rect x="-1.6" y="-7.9" width="3.2" height="4" transform="rotate(135)"/>
<rect x="-1.6" y="-7.9" width="3.2" height="4" transform="rotate(180)"/>
<rect x="-1.6" y="-7.9" width="3.2" height="4" transform="rotate(225)"/>
<rect x="-1.6" y="-7.9" width="3.2" height="4" transform="rotate(270)"/>
<rect x="-1.6" y="-7.9" width="3.2" height="4" transform="rotate(315)"/>
<circle r="3.0" fill="#d6d6d6"/></g>
<text x="602.63" y="46.6" font-family="Liberation Sans, Arial, sans-serif" font-size="21.6" fill="#606060" textLength="34.28" lengthAdjust="spacingAndGlyphs">Abr</text>
<text x="639.1" y="46.6" font-family="Liberation Sans, Arial, sans-serif" font-size="21.6" fill="#6b2020" textLength="77.89" lengthAdjust="spacingAndGlyphs">2379.66</text>
<text x="730.38" y="46.6" font-family="Liberation Sans, Arial, sans-serif" font-size="21.6" fill="#606060" textLength="39.74" lengthAdjust="spacingAndGlyphs">Max</text>
<text x="772.4" y="46.6" font-family="Liberation Sans, Arial, sans-serif" font-size="21.6" fill="#6b2020" textLength="77.7" lengthAdjust="spacingAndGlyphs">2389.42</text>
<text x="863.99" y="46.6" font-family="Liberation Sans, Arial, sans-serif" font-size="21.6" fill="#606060" textLength="35.69" lengthAdjust="spacingAndGlyphs">Min</text>
<text x="902.0" y="46.6" font-family="Liberation Sans, Arial, sans-serif" font-size="21.6" fill="#6b2020" textLength="77.55" lengthAdjust="spacingAndGlyphs">2300.77</text>
<text x="994.69" y="46.6" font-family="Liberation Sans, Arial, sans-serif" font-size="21.6" fill="#606060" textLength="34.74" lengthAdjust="spacingAndGlyphs">Fch</text>
<text x="1031.9" y="46.6" font-family="Liberation Sans, Arial, sans-serif" font-size="21.6" fill="#6b2020" textLength="77.87" lengthAdjust="spacingAndGlyphs">2301.85</text>
<circle cx="1589.4" cy="36.8" r="4.3" fill="#8c8c8c"/>
<text y="42.7" font-family="Liberation Sans, Arial, sans-serif" fill="#999" stroke="#999" stroke-width="0.35"><tspan x="1599.42" font-size="16.8" textLength="55.86" lengthAdjust="spacingAndGlyphs">Market</tspan> <tspan x="1661.12" font-size="16.8" textLength="53.43" lengthAdjust="spacingAndGlyphs">Closed</tspan></text>
<rect x="1693" y="50" width="21" height="21" fill="#a9c5ee" shape-rendering="crispEdges"/>
<path d="M1701.8 51.8 h3.3 v4.5 h2.6 l-4.25 3.6 l-4.25 -3.6 h2.6 Z M1701.8 68.9 h3.3 v-3.8 h2.6 l-4.25 -4.2 l-4.25 4.2 h2.6 Z" fill="#fff"/>
<text y="557.0" font-family="Liberation Sans, Arial, sans-serif" font-weight="bold" fill="#0a0a0a" stroke="#0a0a0a" stroke-width="0.9"><tspan x="18.95" font-size="31" textLength="9.27" lengthAdjust="spacingAndGlyphs">I</tspan><tspan x="28.14" font-size="33" textLength="128.25" lengthAdjust="spacingAndGlyphs">nvesting</tspan></text>
<text x="154.9" y="557.0" font-family="Liberation Sans, Arial, sans-serif" font-size="22.3" fill="#3a3a3a" textLength="46.16" lengthAdjust="spacingAndGlyphs">.com</text>
<rect x="110" y="528" width="8.5" height="10.2" fill="#fff"/>
<ellipse cx="114.1" cy="534.6" rx="4.4" ry="2.5" transform="rotate(-48 114.1 534.6)" fill="#f5a31f"/>
</svg>
</body></html>
